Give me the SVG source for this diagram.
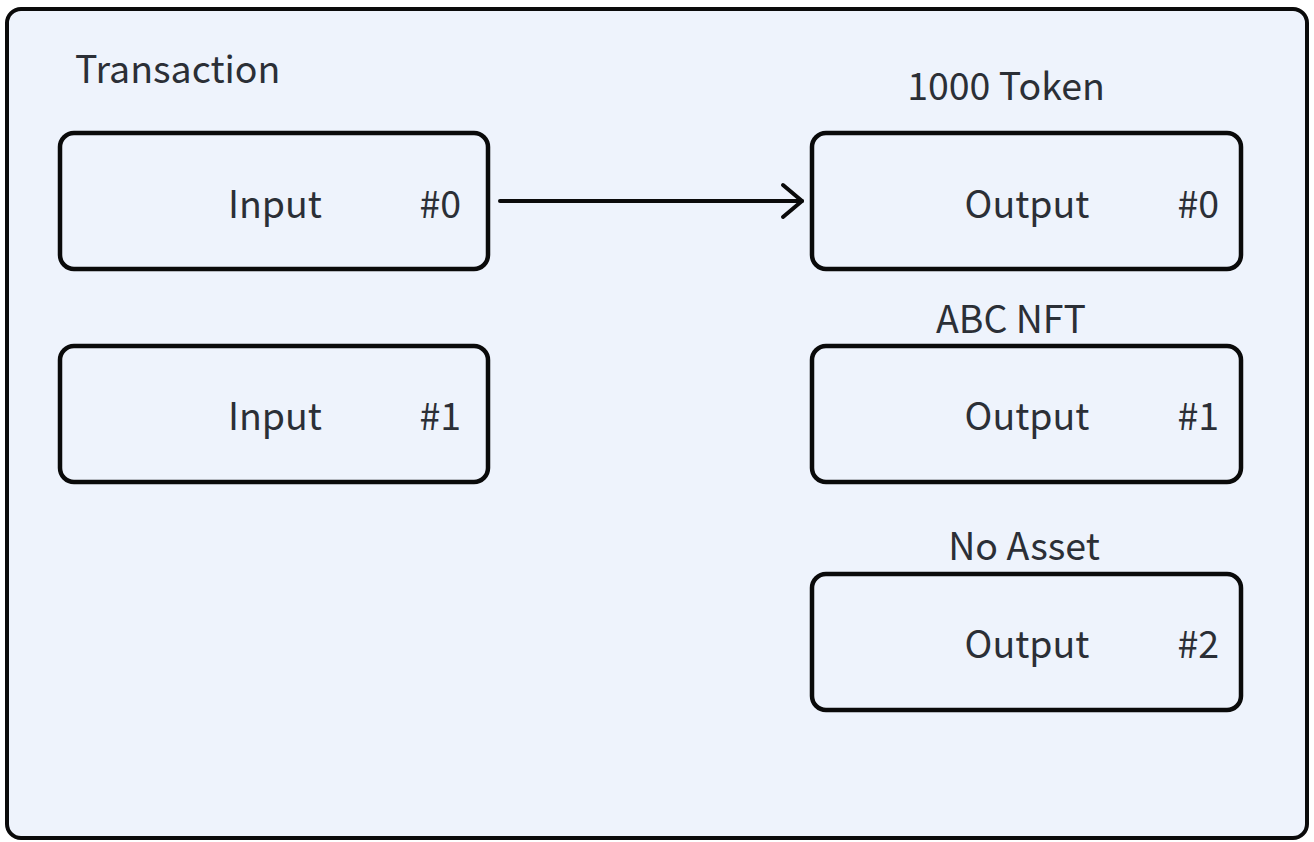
<svg xmlns="http://www.w3.org/2000/svg" width="1314" height="842" viewBox="0 0 1314 842">
  <style>
    .frame { fill: #eef3fc; stroke: #0a0a0a; stroke-width: 4; }
    .box { fill: #eef3fc; stroke: #0a0a0a; stroke-width: 4.5; }
    .txt { font-family: "Noto Sans CJK SC", "Noto Sans", sans-serif; font-size: 37.5px; fill: #2b2f36; }
    .mid { text-anchor: middle; }
    .end { text-anchor: end; }
    .edge { fill: none; stroke: #0a0a0a; stroke-width: 4; stroke-linecap: round; stroke-linejoin: round; }
  </style>
  <defs>
    <marker id="chevron" viewBox="-24 -20 28 40" refX="0" refY="0" markerWidth="28" markerHeight="40" markerUnits="userSpaceOnUse" orient="auto">
      <path d="M -19 -16 L 0 0 L -19 16" fill="none" stroke="#0a0a0a" stroke-width="4" stroke-linecap="round" stroke-linejoin="round"/>
    </marker>
  </defs>
  <rect width="1314" height="842" fill="#ffffff"/>

  <!-- transaction container -->
  <g id="transaction">
    <rect class="frame" x="7" y="9" width="1300" height="829" rx="14"/>
    <text class="txt" x="75" y="83">Transaction</text>
  </g>

  <!-- inputs -->
  <g id="input0">
    <rect class="box" x="60" y="133" width="428" height="136" rx="14"/>
    <text class="txt mid" x="275" y="218">Input</text>
    <text class="txt end" x="461" y="218">#0</text>
  </g>
  <g id="input1">
    <rect class="box" x="60" y="346" width="428" height="136" rx="14"/>
    <text class="txt mid" x="275" y="430">Input</text>
    <text class="txt end" x="461" y="430">#1</text>
  </g>

  <!-- outputs -->
  <g id="output0">
    <text class="txt mid" x="1006" y="100">1000 Token</text>
    <rect class="box" x="812" y="133" width="429" height="136" rx="14"/>
    <text class="txt mid" x="1027" y="218">Output</text>
    <text class="txt end" x="1219" y="218">#0</text>
  </g>
  <g id="output1">
    <text class="txt mid" x="1011" y="333">ABC NFT</text>
    <rect class="box" x="812" y="346" width="429" height="136" rx="14"/>
    <text class="txt mid" x="1027" y="430">Output</text>
    <text class="txt end" x="1219" y="430">#1</text>
  </g>
  <g id="output2">
    <text class="txt mid" x="1024" y="560">No Asset</text>
    <rect class="box" x="812" y="574" width="429" height="136" rx="14"/>
    <text class="txt mid" x="1027" y="658">Output</text>
    <text class="txt end" x="1219" y="658">#2</text>
  </g>

  <!-- connectors -->
  <g id="connectors">
    <path class="edge" d="M 500 201 L 802 201" marker-end="url(#chevron)"/>
  </g>
</svg>
